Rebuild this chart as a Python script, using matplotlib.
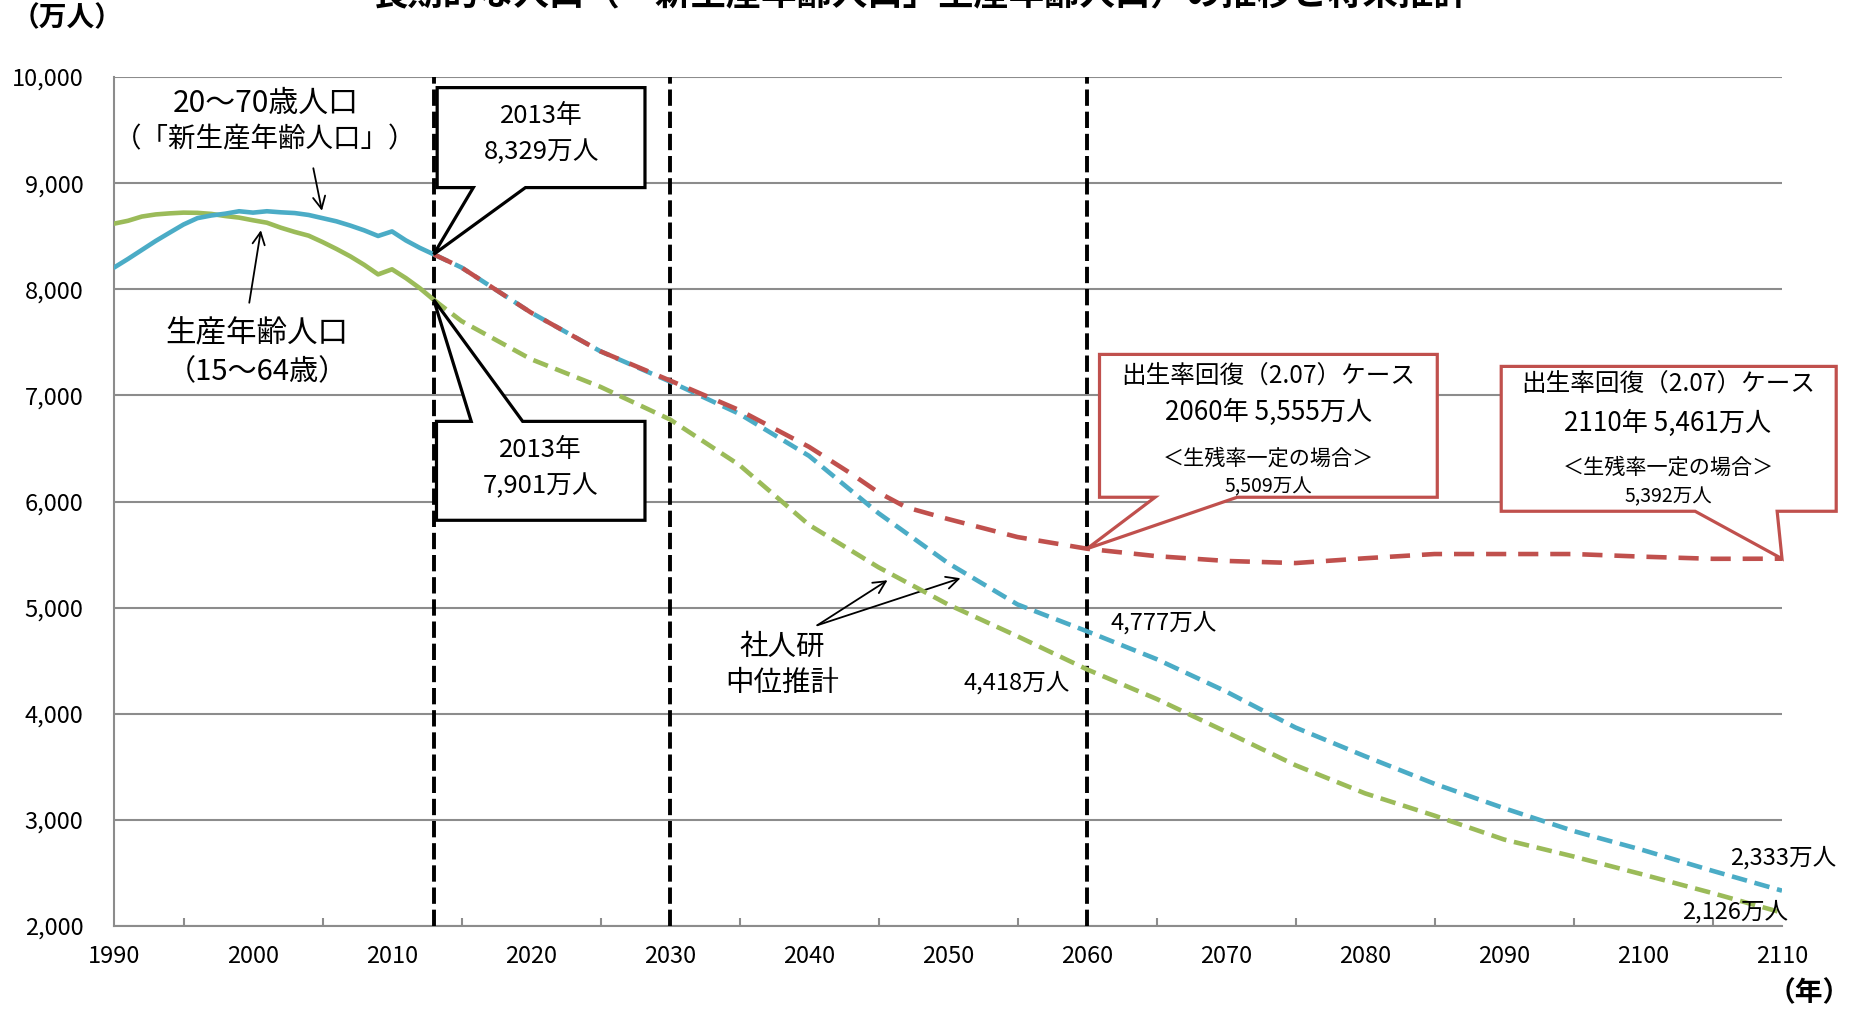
import matplotlib
matplotlib.use("Agg")
import matplotlib.pyplot as plt
from matplotlib.patches import Polygon
from matplotlib.ticker import FixedLocator, FuncFormatter

plt.rcParams['font.family'] = ['Noto Sans CJK JP', 'DejaVu Sans']

# ---- data (万人) ----
hist_years = list(range(1990, 2014))
pop_20_70_hist = [8204, 8285, 8370, 8455, 8533, 8610, 8670, 8695, 8712, 8735,
                  8722, 8735, 8725, 8718, 8700, 8670, 8640, 8600, 8555, 8502,
                  8545, 8460, 8390, 8329]
pop_15_64_hist = [8618, 8645, 8685, 8705, 8715, 8722, 8720, 8710, 8690, 8675,
                  8650, 8627, 8580, 8540, 8505, 8445, 8380, 8310, 8230, 8140,
                  8188, 8105, 8010, 7901]

proj_years = [2013, 2015, 2020, 2025, 2030, 2035, 2040, 2045, 2050, 2055, 2060,
              2065, 2070, 2075, 2080, 2085, 2090, 2095, 2100, 2105, 2110]
pop_20_70_proj = [8329, 8205, 7780, 7415, 7130, 6825, 6430, 5890, 5420, 5030, 4777,
                  4515, 4210, 3870, 3600, 3340, 3110, 2895, 2715, 2520, 2333]
pop_15_64_proj = [7901, 7700, 7341, 7080, 6773, 6343, 5780, 5380, 5030, 4730, 4418,
                  4140, 3830, 3515, 3250, 3040, 2815, 2655, 2485, 2310, 2126]

recovery_years = [2013, 2015, 2020, 2025, 2030, 2035, 2040, 2043, 2045, 2047, 2050,
                  2055, 2060, 2065, 2070, 2075, 2080, 2085, 2090, 2095, 2100, 2105, 2110]
pop_recovery = [8329, 8205, 7780, 7415, 7140, 6860, 6515, 6265, 6085, 5945, 5835,
                5665, 5555, 5485, 5440, 5420, 5465, 5505, 5505, 5505, 5480, 5460, 5461]
recovery_const_survival = {2060: 5509, 2110: 5392}

x_major = list(range(1990, 2111, 10))
x_minor = list(range(1995, 2110, 10))
y_ticks = list(range(2000, 10001, 1000))
marker_years = [2013, 2030, 2060]

BLUE = '#4BACC6'
GREEN = '#9BBB59'
RED = '#C0504D'
GRID = '#8C8C8C'

W, H = 1852, 1009
fig = plt.figure(figsize=(W / 100, H / 100), dpi=100)
ax = fig.add_axes([114 / W, 1 - 926 / H, 1668 / W, 849 / H])
ax.set_xlim(1990, 2110)
ax.set_ylim(2000, 10000)

# grid and frame
ax.yaxis.set_major_locator(FixedLocator(y_ticks))
ax.yaxis.set_major_formatter(FuncFormatter(lambda v, p: f"{int(v):,}"))
ax.grid(axis='y', color=GRID, lw=1.5, zorder=0)
ax.set_axisbelow(True)
for s in ['top', 'right']:
    ax.spines[s].set_visible(False)
for s in ['left', 'bottom']:
    ax.spines[s].set_color(GRID)
    ax.spines[s].set_linewidth(1.5)
ax.xaxis.set_major_locator(FixedLocator(x_major))
ax.xaxis.set_minor_locator(FixedLocator(x_minor))
ax.tick_params(axis='x', which='major', length=0, pad=14, labelsize=17)
ax.tick_params(axis='x', which='minor', length=6, direction='in', color=GRID, width=1.5)
ax.tick_params(axis='y', length=0, pad=22, labelsize=17)

# reference year lines
for yr in marker_years:
    ax.axvline(yr, color='black', lw=2.8, dashes=(4.2, 1.5), zorder=3)

# series
ax.plot(hist_years, pop_15_64_hist, color=GREEN, lw=3.3, solid_capstyle='round', zorder=4)
ax.plot(hist_years, pop_20_70_hist, color=BLUE, lw=3.3, solid_capstyle='round', zorder=4)
ax.plot(proj_years, pop_15_64_proj, color=GREEN, lw=3.3, dashes=(3.4, 1.7), zorder=4)
ax.plot(proj_years, pop_20_70_proj, color=BLUE, lw=3.3, dashes=(3.4, 1.7), zorder=4)
ax.plot(recovery_years, pop_recovery, color=RED, lw=3.3, dashes=(4.4, 2.6), zorder=5)

FS = dict(family=['Noto Sans CJK JP', 'DejaVu Sans'])


def callout(x0, x1, y0, y1, tail, tip, color, side='bottom'):
    """Rectangle with a pointed tail running to (tip)."""
    t1, t2 = tail
    if side == 'bottom':
        pts = [(x0, y1), (x1, y1), (x1, y0), (t2, y0), tip, (t1, y0), (x0, y0)]
    else:
        pts = [(x0, y1), (t1, y1), tip, (t2, y1), (x1, y1), (x1, y0), (x0, y0)]
    ax.add_patch(Polygon(pts, closed=True, facecolor='white', edgecolor=color,
                         lw=2.3, joinstyle='miter', zorder=6, clip_on=False))


# 2013 callouts
callout(2013.25, 2028.2, 8958, 9900, (2015.85, 2019.6),
        (2013, pop_20_70_hist[-1]), 'black', 'bottom')
ax.text(2020.74, 9637, '2013年', ha='center', va='center', fontsize=18.5, zorder=7, **FS)
ax.text(2020.74, 9288, f'{pop_20_70_hist[-1]:,}万人', ha='center', va='center',
        fontsize=18.5, zorder=7, **FS)

callout(2013.2, 2028.2, 5823, 6755, (2015.7, 2019.4),
        (2013, pop_15_64_hist[-1]), 'black', 'top')
ax.text(2020.7, 6482, '2013年', ha='center', va='center', fontsize=18.5, zorder=7, **FS)
ax.text(2020.7, 6143, f'{pop_15_64_hist[-1]:,}万人', ha='center', va='center',
        fontsize=18.5, zorder=7, **FS)

# fertility recovery callouts
r60 = pop_recovery[recovery_years.index(2060)]
callout(2060.9, 2085.2, 6040, 7386, (2064.9, 2070.8), (2060, r60), RED, 'bottom')
ax.text(2073.05, 7188, '出生率回復（2.07）ケース', ha='center', va='center',
        fontsize=17.7, zorder=7, **FS)
ax.text(2073.05, 6840, f'2060年 {r60:,}万人', ha='center', va='center',
        fontsize=18.8, zorder=7, **FS)
ax.text(2073.05, 6407, '＜生残率一定の場合＞', ha='center', va='center',
        fontsize=15.2, zorder=7, **FS)
ax.text(2073.05, 6134, f'{recovery_const_survival[2060]:,}万人', ha='center',
        va='center', fontsize=14, zorder=7, **FS)

callout(2089.8, 2113.9, 5908, 7273, (2103.75, 2109.65),
        (2110, pop_recovery[-1]), RED, 'bottom')
ax.text(2101.8, 7113, '出生率回復（2.07）ケース', ha='center', va='center',
        fontsize=17.7, zorder=7, **FS)
ax.text(2101.8, 6736, f'2110年 {pop_recovery[-1]:,}万人', ha='center', va='center',
        fontsize=18.8, zorder=7, **FS)
ax.text(2101.8, 6322, '＜生残率一定の場合＞', ha='center', va='center',
        fontsize=15.2, zorder=7, **FS)
ax.text(2101.8, 6040, f'{recovery_const_survival[2110]:,}万人', ha='center',
        va='center', fontsize=14, zorder=7, **FS)

# series labels
ax.text(2000.9, 9749, '20～70歳人口', ha='center', va='center', fontsize=21.5, **FS)
ax.text(2000.9, 9410, '（「新生産年齢人口」）', ha='center', va='center', fontsize=19.8, **FS)
ax.annotate('', xy=(2005.0, 8714), xytext=(2004.3, 9166),
            arrowprops=dict(arrowstyle='->', color='black', lw=1.3, mutation_scale=22))

ax.text(2000.3, 7584, '生産年齢人口', ha='center', va='center', fontsize=22, **FS)
ax.text(2000.3, 7217, '（15～64歳）', ha='center', va='center', fontsize=21, **FS)
ax.annotate('', xy=(2000.6, 8582), xytext=(1999.7, 7847),
            arrowprops=dict(arrowstyle='->', color='black', lw=1.3, mutation_scale=22))

ax.text(2038.1, 4627, '社人研', ha='center', va='center', fontsize=20.5, **FS)
ax.text(2038.1, 4288, '中位推計', ha='center', va='center', fontsize=20.5, **FS)
for tip in [(2045.65, 5258), (2050.9, 5277)]:
    ax.annotate('', xy=tip, xytext=(2040.6, 4834),
                arrowprops=dict(arrowstyle='->', color='black', lw=1.3,
                                mutation_scale=22, shrinkA=0, shrinkB=0))

# value labels
i60 = proj_years.index(2060)
ax.text(2061.7, 4853, f'{pop_20_70_proj[i60]:,}万人', ha='left', va='center',
        fontsize=17, **FS)
ax.text(2058.8, 4288, f'{pop_15_64_proj[i60]:,}万人', ha='right', va='center',
        fontsize=17, **FS)
ax.text(2106.3, 2640, f'{pop_20_70_proj[-1]:,}万人', ha='left', va='center',
        fontsize=17, zorder=7, **FS)
ax.text(2102.8, 2132, f'{pop_15_64_proj[-1]:,}万人', ha='left', va='center',
        fontsize=17, zorder=7, **FS)

# axis units and title
fig.text(12 / W, 1 - 18 / H, '（万人）', ha='left', va='center', fontsize=20,
         fontweight='bold', **FS)
fig.text(1851 / W, 1 - 993 / H, '（年）', ha='right', va='center', fontsize=20,
         fontweight='bold', **FS)
fig.text(921 / W, 1 - 12 / H, '長期的な人口（「新生産年齢人口」生産年齢人口）の推移と将来推計',
         ha='center', va='bottom', fontsize=25.5, fontweight='bold', **FS)

fig.savefig('out.png', dpi=100)
